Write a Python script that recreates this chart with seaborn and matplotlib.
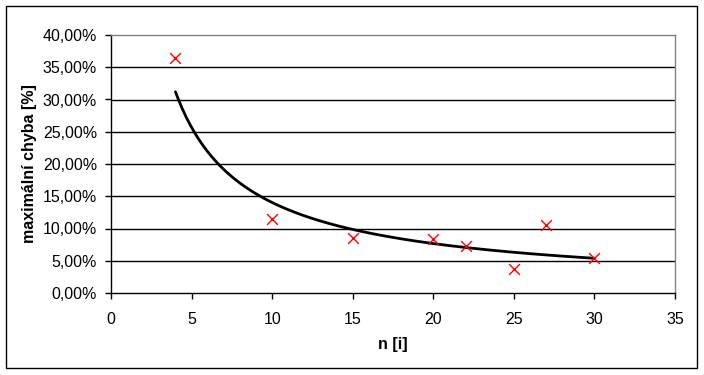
import numpy as np
import pandas as pd
import matplotlib
matplotlib.use("Agg")
import matplotlib.pyplot as plt
import seaborn as sns
from matplotlib.ticker import FuncFormatter, MultipleLocator
from matplotlib.patches import Rectangle

# data
n_values = [4, 10, 15, 20, 22, 25, 27, 30]
max_error = [0.364, 0.114, 0.086, 0.084, 0.073, 0.037, 0.105, 0.055]

sns.set_theme(style="white")
plt.rcParams['font.family'] = ['Liberation Sans', 'DejaVu Sans']

df = pd.DataFrame({'n': n_values, 'err': max_error})

# mocninna spojnice trendu (power trendline, as Excel does it)
b, ln_a = np.polyfit(np.log(df['n']), np.log(df['err']), 1)
trend_x = np.linspace(df['n'].min(), df['n'].max(), 200)
trend = pd.DataFrame({'n': trend_x, 'err': np.exp(ln_a) * trend_x ** b})

fig = plt.figure(figsize=(7.04, 3.75), dpi=100)
ax = fig.add_axes([111 / 704, 1 - 293 / 375, 564 / 704, 258 / 375])

ax.grid(False)
for y in np.arange(0.05, 0.40, 0.05):
    ax.axhline(y, color='black', lw=1.0, zorder=1)

sns.lineplot(data=trend, x='n', y='err', ax=ax, color='black', lw=2.0, zorder=3)
sns.scatterplot(data=df, x='n', y='err', ax=ax, marker='x', color='red',
                s=60, linewidth=1.0, zorder=4)

ax.set_xlim(0, 35)
ax.set_ylim(0, 0.40)
ax.xaxis.set_major_locator(MultipleLocator(5))
ax.yaxis.set_major_locator(MultipleLocator(0.05))
ax.yaxis.set_major_formatter(FuncFormatter(lambda v, p: f"{v * 100:.2f}%".replace('.', ',')))

ax.tick_params(axis='both', which='major', direction='out', length=4, width=1,
               color='black', labelsize=11.5, labelcolor='black', bottom=True, left=True)
ax.tick_params(axis='x', pad=10)
ax.tick_params(axis='y', pad=6)

for side in ['left', 'bottom']:
    ax.spines[side].set_color('black')
    ax.spines[side].set_linewidth(1.0)
for side in ['top', 'right']:
    ax.spines[side].set_color('#808080')
    ax.spines[side].set_linewidth(1.0)

ax.set_xlabel('n [i]', fontsize=11.5, fontweight='bold', color='black', va='center')
ax.set_ylabel('maximální chyba [%]', fontsize=11.5, fontweight='bold', color='black', va='center')
ax.xaxis.set_label_coords(0.5, (293 - 345) / 258)
ax.yaxis.set_label_coords((30 - 111) / 564, 0.5)

fig.patches.append(Rectangle((6 / 704, 1 - 368 / 375), 691 / 704, 362 / 375,
                             transform=fig.transFigure, fill=False,
                             edgecolor='black', lw=1.0))

fig.savefig('out.png', dpi=100)
